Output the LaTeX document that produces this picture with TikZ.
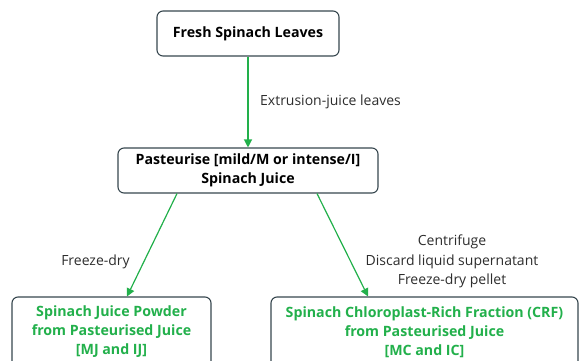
\documentclass[tikz,border=0pt]{standalone}
\usepackage{fontspec}
\setmainfont{Open Sans}
\usetikzlibrary{arrows.meta, positioning}
\definecolor{leafgreen}{RGB}{34,176,75}
\definecolor{boxslate}{RGB}{55,71,79}
\definecolor{notegray}{RGB}{45,45,45}
\tikzset{
    stepbox/.style={rectangle, draw=boxslate, fill=white, rounded corners=6pt, line width=1.1pt, align=center, inner sep=0pt, font=\bfseries\fontsize{14.2}{18.5}\selectfont},
    productbox/.style={stepbox, text=leafgreen, font=\bfseries\fontsize{14.2}{19}\selectfont},
    flowarrow/.style={-{Triangle[length=8pt, width=8pt]}, draw=leafgreen, fill=leafgreen, line width=1.2pt},
    flownote/.style={font=\fontsize{14}{19.5}\selectfont, text=notegray, align=center, inner sep=0pt}
}

\begin{document}
\begin{tikzpicture}[x=1pt, y=-1pt]
\useasboundingbox (0,0) rectangle (579,360);

\node[stepbox, minimum width=182pt, minimum height=45pt] (leaves) at (248,33.5) {Fresh Spinach Leaves};
\node[stepbox, minimum width=260pt, minimum height=45pt] (juice) at (248,170.5) {Pasteurise [mild/M or intense/I]\\Spinach Juice};
\node[productbox, minimum width=199pt, minimum height=70pt] (powder) at (111.5,332) {Spinach Juice Powder\\from Pasteurised Juice\\{[MJ and IJ]}};
\node[productbox, minimum width=307pt, minimum height=70pt] (crf) at (424.5,332) {Spinach Chloroplast-Rich Fraction (CRF)\\from Pasteurised Juice\\{[MC and IC]}};

\draw[flowarrow] (leaves) -- (juice);
\draw[flowarrow] ([xshift=-71pt]juice.south) -- ([xshift=15.5pt]powder.north);
\draw[flowarrow] ([xshift=69pt]juice.south) -- ([xshift=-56.5pt]crf.north);

\node[flownote, anchor=west] (extrude) at (260,102) {Extrusion-juice leaves};
\node[flownote] (dry) at (95.5,262) {Freeze-dry};
\node[flownote] (spin) at (452,261.5) {Centrifuge\\Discard liquid supernatant\\Freeze-dry pellet};

\end{tikzpicture}
\end{document}
